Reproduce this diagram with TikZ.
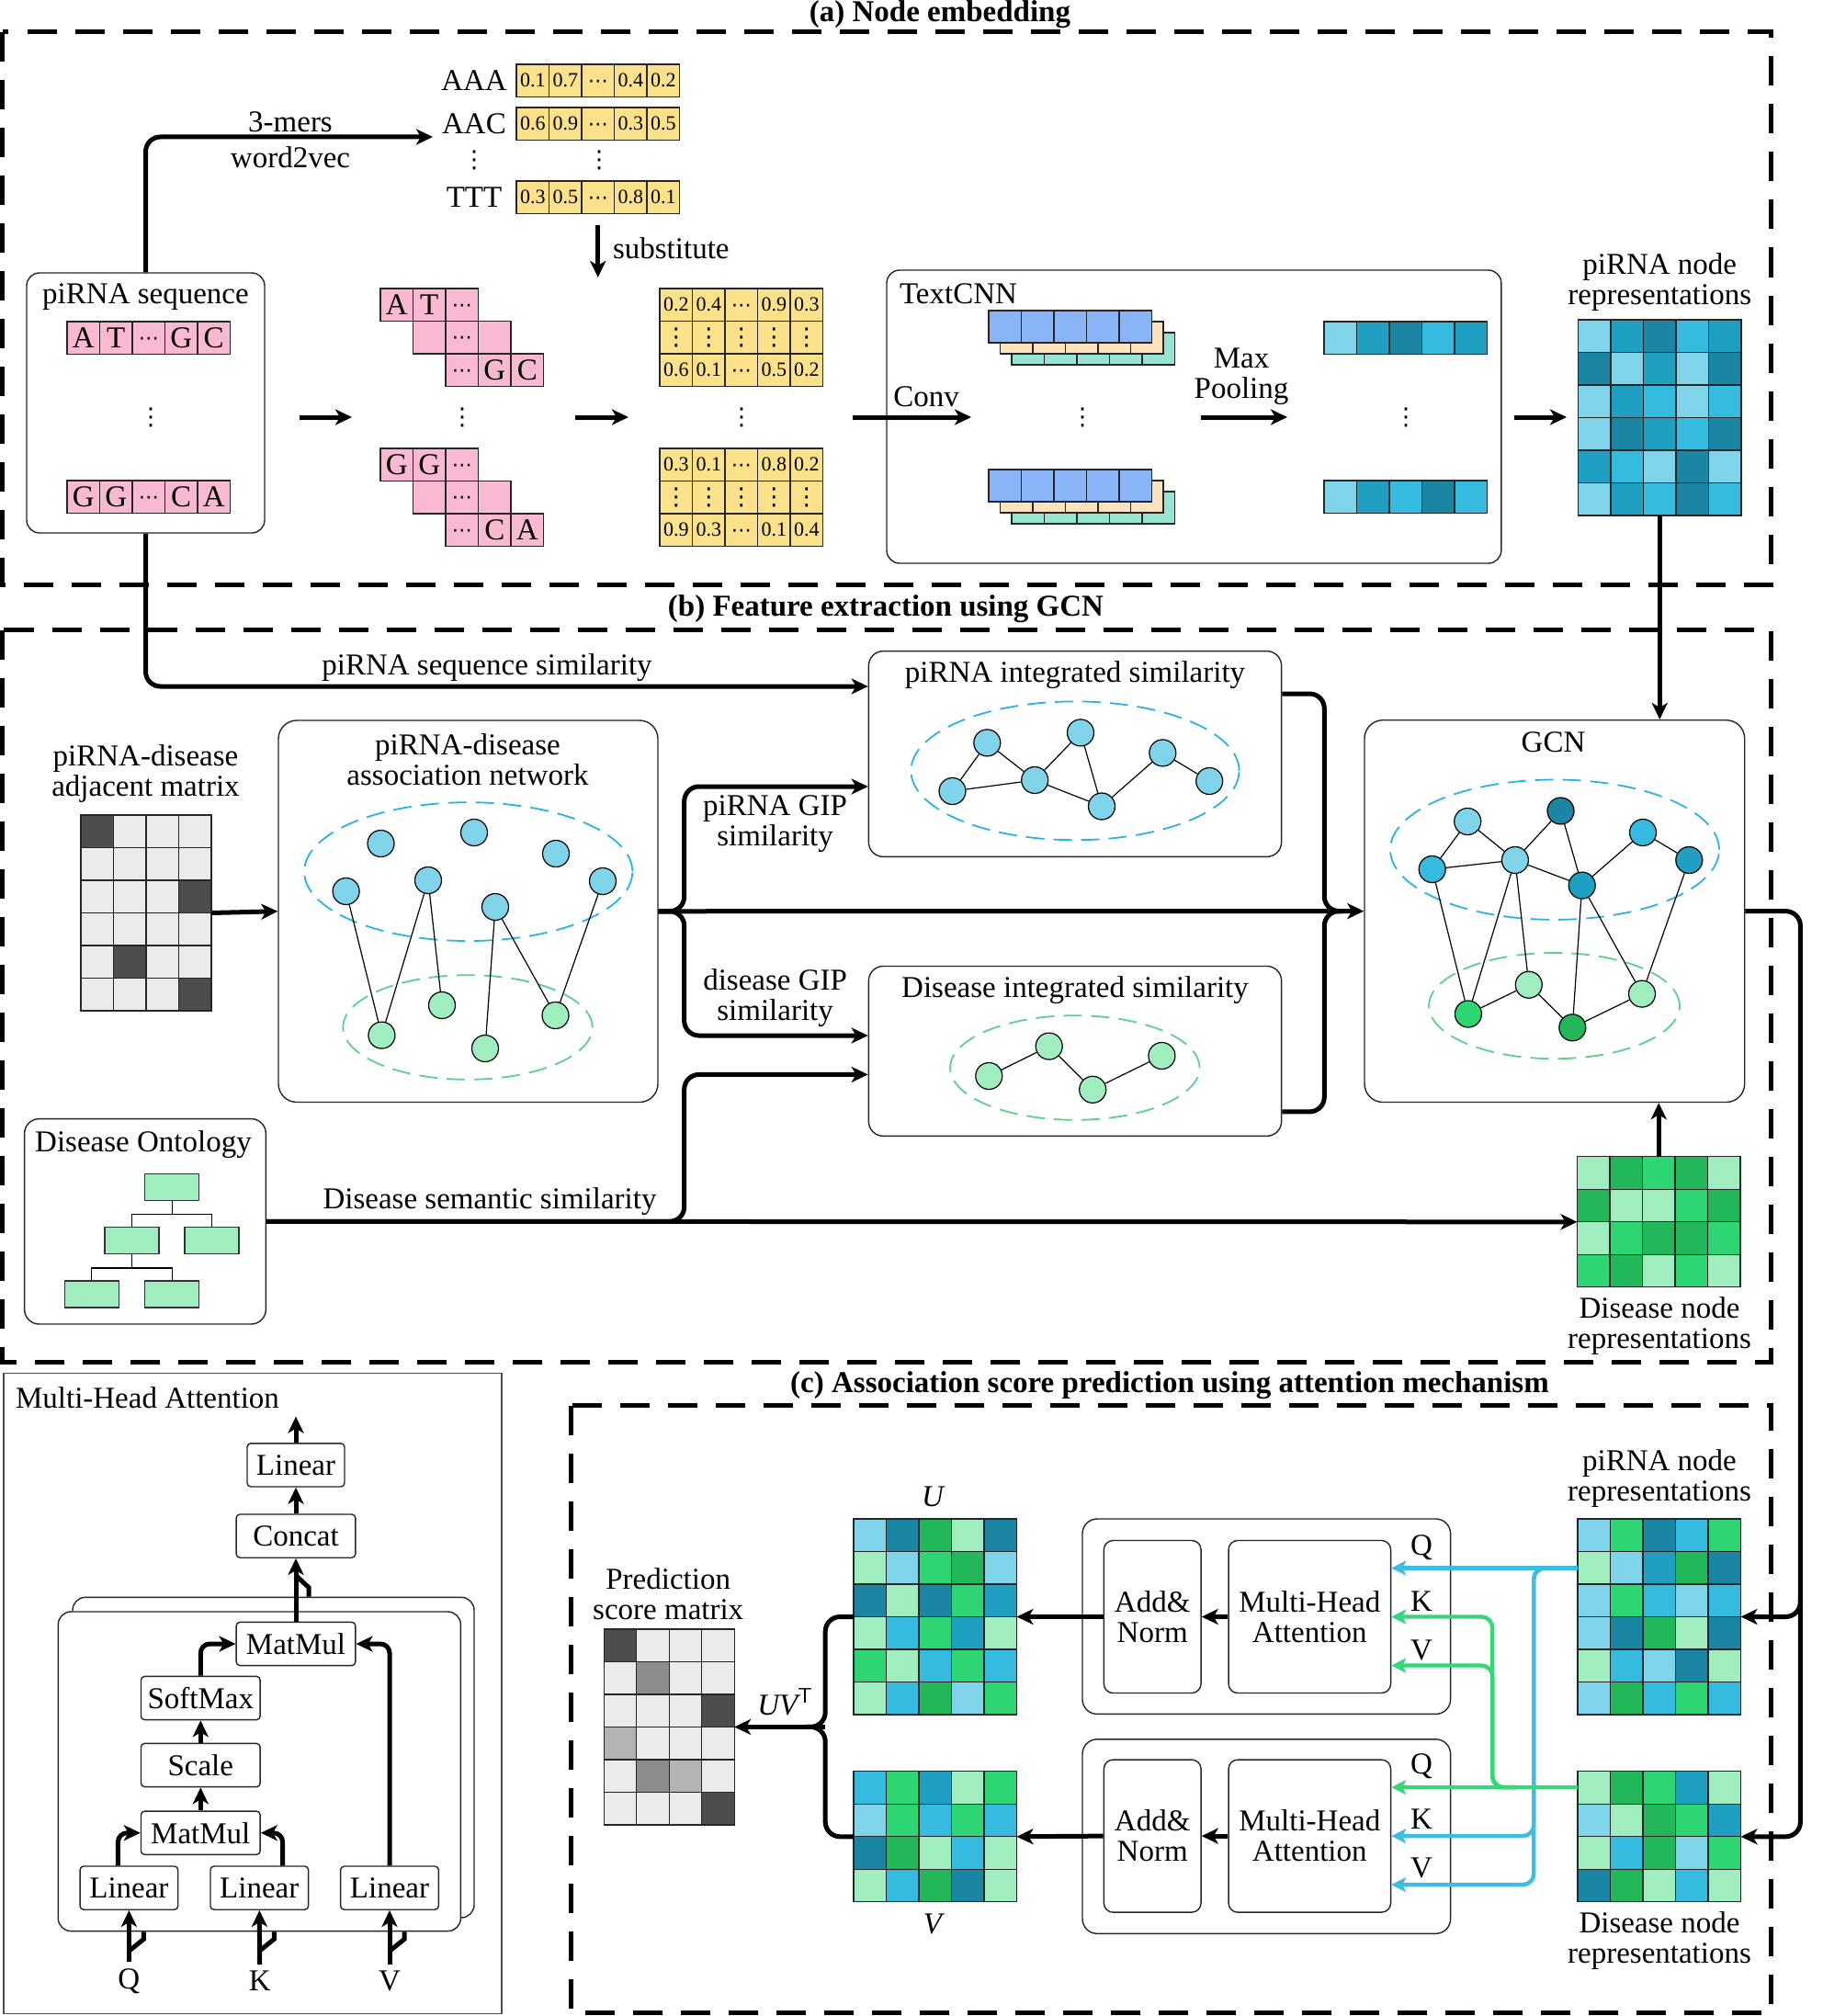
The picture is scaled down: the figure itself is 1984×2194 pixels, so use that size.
\documentclass[tikz,border=0pt]{standalone}
\usepackage{fontspec}
\setmainfont{Liberation Serif}
\newfontfamily\dotsfont{DejaVu Sans}
\usetikzlibrary{arrows.meta, positioning, calc}

\definecolor{SeqPink}{RGB}{250,185,210}
\definecolor{VecYellow}{RGB}{251,226,138}
\definecolor{ConvBlue}{RGB}{138,180,248}
\definecolor{ConvBeige}{RGB}{253,226,190}
\definecolor{ConvTeal}{RGB}{152,228,210}
\definecolor{Lc}{HTML}{7FD4EA}
\definecolor{Mc}{HTML}{1F9FC1}
\definecolor{Dc}{HTML}{1A86A4}
\definecolor{Bc}{HTML}{36BBE0}
\definecolor{Lg}{HTML}{A0EDC0}
\definecolor{Dg}{HTML}{22B85A}
\definecolor{Bg}{HTML}{2ED573}
\definecolor{Gd}{HTML}{4D4D4D}
\definecolor{Gl}{HTML}{EBEBEB}
\definecolor{Gm}{HTML}{8C8C8C}
\definecolor{Gs}{HTML}{B3B3B3}
\definecolor{EllBlue}{HTML}{29B3E3}
\definecolor{EllGreen}{HTML}{5CD08C}
\definecolor{ArrCyan}{HTML}{3DBDE2}
\definecolor{ArrGreen}{HTML}{35D777}

\newcommand{\cdt}{{\dotsfont\fontsize{11}{11}\selectfont\raisebox{0pt}[0.66em][0pt]{⋯}}}
\newcommand{\vdt}{{\dotsfont\fontsize{13}{13}\selectfont ⋮}}
% coloured grid: name, x, y (top left), columns, rows, rows of colours
\newcommand{\heatmap}[6]{%
  \foreach \cellrowlist [count=\ri] in {#6} {
    \foreach \cellcol [count=\ci] in \cellrowlist
      \draw[cellline, fill=\cellcol] ({#2+(\ci-1)*35.5},{#3+(\ri-1)*35.5}) rectangle ++(35.5,35.5);
  }
  \node[inner sep=0pt, outer sep=0pt, minimum width={#4*17.75pt}, minimum height={#5*17.75pt}, anchor=north west] (#1) at (#2,#3) {};
}
% row of lettered cells: name, x, y, style, entries
\newcommand{\cellrow}[5]{%
  \foreach \entry [count=\ci] in {#5} {
    \node[#4, anchor=north west] (#1-\ci) at ({#2+(\ci-1)*35.5},#3) {};
    \node[#4, draw=none, fill=none, minimum width=0pt, minimum height=0pt] (#1-\ci-t) at (#1-\ci.center) {\entry};
  }
}

\begin{document}
\begin{tikzpicture}[x=0.5pt, y=-0.5pt, font=\fontsize{16.5}{16.5}\selectfont]
  \tikzstyle{panel} = [line width=2.5pt, dash pattern=on 16pt off 10pt]
  \tikzstyle{cellline} = [draw=black!85, line width=0.6pt]
  \tikzstyle{pinkcell} = [cellline, fill=SeqPink, minimum width=17.75pt, minimum height=17.75pt, inner sep=0pt, outer sep=0pt]
  \tikzstyle{yellowcell} = [pinkcell, fill=VecYellow, font=\fontsize{11}{11}\selectfont]
  \tikzstyle{bluecell} = [pinkcell, fill=ConvBlue, minimum height=17.5pt]
  \tikzstyle{beigecell} = [bluecell, fill=ConvBeige]
  \tikzstyle{tealcell} = [bluecell, fill=ConvTeal]
  \tikzstyle{roundbox} = [draw=black!85, line width=0.7pt, rounded corners=7pt, fill=white, inner sep=0pt]
  \tikzstyle{mbox} = [draw=black!85, line width=0.7pt, rounded corners=2pt, fill=white, minimum height=23.6pt, inner sep=0pt]
  \tikzstyle{arrow} = [-{Stealth[length=9pt, width=8.5pt, inset=2.5pt]}, line width=2.5pt]
  \tikzstyle{thickline} = [line width=2.5pt]
  \tikzstyle{cyanarrow} = [-{Stealth[length=8pt, width=8pt, inset=2pt]}, line width=2.2pt, draw=ArrCyan]
  \tikzstyle{greenarrow} = [cyanarrow, draw=ArrGreen]
  \tikzstyle{bnode} = [circle, draw, line width=0.6pt, minimum size=14.5pt, inner sep=0pt, fill=Lc]
  \tikzstyle{gnode} = [bnode, fill=Lg]
  \tikzstyle{edge} = [line width=0.6pt]
  \tikzstyle{blueell} = [draw=EllBlue, line width=0.9pt, dash pattern=on 10pt off 5pt]
  \tikzstyle{greenell} = [blueell, draw=EllGreen]
  \tikzstyle{title} = [font=\fontsize{16.5}{16.5}\selectfont\bfseries]
  \tikzstyle{treebox} = [draw=black!80, line width=0.6pt, fill=Lg, minimum width=29.5pt, minimum height=14.5pt, inner sep=0pt]

  \useasboundingbox (0,0) rectangle (1984,2194);

  % Panels
  \draw[panel] (2.5,35) rectangle (1927,636);
  \draw[panel] (2.5,685.5) rectangle (1927,1482);
  \draw[panel] (621.5,1529.5) rectangle (1927,2190.5);
  \node[title] (ta) at (1023,16) {(a) Node embedding};
  \node[title] (tb) at (964,663) {(b) Feature extraction using GCN};
  \node[title] (tc) at (1273,1508) {(c) Association score prediction using attention mechanism};

  % (a) sequences
  \coordinate (mid) at (0,454);
  \node[roundbox, minimum width=129.5pt, minimum height=141.5pt] (seqbox) at (158.5,438.5) {};
  \node (seqtitle) at (158.5,323) {piRNA sequence};
  \cellrow{s1}{73}{350}{pinkcell}{A,T,\cdt,G,C}
  \cellrow{s2}{73}{523}{pinkcell}{G,G,\cdt,C,A}
  \node (sdots) at (164,454) {\vdt};

  % k-mer vectors
  \node (aaa) at (516,88) {AAA};
  \node (aac) at (516,135) {AAC};
  \node (kdots) at (516,174) {\vdt};
  \node (ttt) at (516,215) {TTT};
  \cellrow{v1}{562}{70}{yellowcell}{0.1,0.7,\cdt,0.4,0.2}
  \cellrow{v2}{562}{117}{yellowcell}{0.6,0.9,\cdt,0.3,0.5}
  \node (vecdots) at (652,174) {\vdt};
  \cellrow{v3}{562}{197}{yellowcell}{0.3,0.5,\cdt,0.8,0.1}
  \coordinate (kin) at (471,149);
  \draw[arrow, rounded corners=8pt] (seqbox.north) |- (kin);
  \node (kmer) at (316,133) {3-mers};
  \node (w2v) at (316,171) {word2vec};
  \draw[arrow] ([yshift=-6.25pt]v3-3.south) -- ([yshift=-34.75pt]v3-3.south);
  \node[anchor=west] (subst) at (660,270) {substitute};

  % 3-mer staircases
  \cellrow{u1}{414}{314}{pinkcell}{A,T,\cdt}
  \cellrow{u2}{449.5}{349.5}{pinkcell}{{},\cdt,{}}
  \cellrow{u3}{485}{385}{pinkcell}{\cdt,G,C}
  \cellrow{w1}{414}{488}{pinkcell}{G,G,\cdt}
  \cellrow{w2}{449.5}{523.5}{pinkcell}{{},\cdt,{}}
  \cellrow{w3}{485}{559}{pinkcell}{\cdt,C,A}
  \node (udots) at (503,454) {\vdt};

  % embedded matrices
  \cellrow{ya1}{718}{314}{yellowcell}{0.2,0.4,\cdt,0.9,0.3}
  \cellrow{ya2}{718}{349.5}{yellowcell}{\vdt,\vdt,\vdt,\vdt,\vdt}
  \cellrow{ya3}{718}{385}{yellowcell}{0.6,0.1,\cdt,0.5,0.2}
  \cellrow{yb1}{718}{488}{yellowcell}{0.3,0.1,\cdt,0.8,0.2}
  \cellrow{yb2}{718}{523.5}{yellowcell}{\vdt,\vdt,\vdt,\vdt,\vdt}
  \cellrow{yb3}{718}{559}{yellowcell}{0.9,0.3,\cdt,0.1,0.4}
  \node (ydots) at (807,454) {\vdt};

  % TextCNN
  \node[roundbox, minimum width=334.4pt, minimum height=159.5pt] (cnn) at (1299.4,453.5) {};
  \node[anchor=west] (cnntitle) at (972,320) {TextCNN};
  \cellrow{ct1}{1101}{362}{tealcell}{{},{},{},{},{}}
  \cellrow{ce1}{1088.5}{350}{beigecell}{{},{},{},{},{}}
  \cellrow{cb1}{1076}{338}{bluecell}{{},{},{},{},{}}
  \cellrow{ct2}{1101}{535}{tealcell}{{},{},{},{},{}}
  \cellrow{ce2}{1088.5}{523}{beigecell}{{},{},{},{},{}}
  \cellrow{cb2}{1076}{511}{bluecell}{{},{},{},{},{}}
  \node (cdots) at (1178,454) {\vdt};
  \heatmap{pl1}{1441}{350}{5}{1}{{Lc,Mc,Dc,Bc,Mc}}
  \heatmap{pl2}{1441}{523}{5}{1}{{Lc,Mc,Bc,Dc,Bc}}
  \node (pdots) at (1530,454) {\vdt};
  \node (convlbl) at (1008,432) {Conv};
  \node[align=center] (poollbl) at (1351,410) {Max\\Pooling};

  % piRNA node representations
  \heatmap{prep1}{1717.5}{348}{5}{6}{{Lc,Mc,Dc,Bc,Mc},{Dc,Lc,Mc,Lc,Dc},{Lc,Mc,Bc,Lc,Bc},{Lc,Dc,Mc,Bc,Dc},{Mc,Bc,Lc,Dc,Lc},{Lc,Mc,Bc,Dc,Bc}}
  \node[align=center, above=1pt of prep1] (prep1lbl) {piRNA node\\representations};

  % Arrows (a)
  \draw[arrow, shorten <=18.5pt, shorten >=15.5pt] (seqbox.east |- mid) -- (u1-1.west |- mid);
  \draw[arrow, shorten <=17.25pt, shorten >=17pt] (u3-3.east |- mid) -- (ya1-1.west |- mid);
  \draw[arrow, shorten <=16.25pt, shorten >=9.5pt] (ya1-5.east |- mid) -- (cb1-1.west |- mid);
  \draw[arrow, shorten <=14.25pt, shorten >=20pt] (ct1-5.east |- mid) -- (pl1.west |- mid);
  \draw[arrow, shorten <=6.6pt, shorten >=6.25pt] (cnn.east |- mid) -- (prep1.west |- mid);

  % (b) adjacency matrix and association network
  \heatmap{adj}{88}{887}{4}{6}{{Gd,Gl,Gl,Gl},{Gl,Gl,Gl,Gl},{Gl,Gl,Gl,Gd},{Gl,Gl,Gl,Gl},{Gl,Gd,Gl,Gl},{Gl,Gl,Gl,Gd}}
  \node[align=center] (adjlbl) at (158.5,842) {piRNA-disease\\adjacent matrix};
  \node[roundbox, rounded corners=10pt, minimum width=206.5pt, minimum height=207.75pt] (anet) at (509.5,991.75) {};
  \node[align=center] (anetlbl) at (509,827) {piRNA-disease\\association network};
  \draw[blueell] (509.7,948.6) ellipse [x radius=89.3pt, y radius=37.7pt];
  \draw[greenell] (509,1118) ellipse [x radius=67.85pt, y radius=28.4pt];
  \node[bnode] (a1) at (414.5,918) {};
  \node[bnode] (a2) at (516,906) {};
  \node[bnode] (a3) at (605,929) {};
  \node[bnode] (a4) at (376.6,970) {};
  \node[bnode] (a5) at (466,958) {};
  \node[bnode] (a6) at (539,987) {};
  \node[bnode] (a7) at (656,959) {};
  \node[gnode] (d1) at (415.4,1126.6) {};
  \node[gnode] (d2) at (481,1094) {};
  \node[gnode] (d3) at (528,1141) {};
  \node[gnode] (d4) at (604.5,1105) {};
  \foreach \p/\q in {a4/d1, a5/d1, a5/d2, a6/d3, a6/d4, a7/d4}
    \draw[edge] (\p) -- (\q);

  % integrated similarities
  \node[roundbox, rounded corners=8pt, minimum width=224.65pt, minimum height=111.9pt] (pis) at (1170,820.5) {};
  \node (pislbl) at (1170,735) {piRNA integrated similarity};
  \draw[blueell] (1170,838.8) ellipse [x radius=89.3pt, y radius=37.7pt];
  \node[bnode] (p1) at (1074.3,808.4) {};
  \node[bnode] (p2) at (1176,797.4) {};
  \node[bnode] (p3) at (1265.3,819.4) {};
  \node[bnode] (p4) at (1036.5,861) {};
  \node[bnode] (p5) at (1126.2,849) {};
  \node[bnode] (p6) at (1199,877.5) {};
  \node[bnode] (p7) at (1316.2,850) {};
  \foreach \p/\q in {p4/p1, p1/p5, p4/p5, p5/p2, p2/p6, p5/p6, p6/p3, p3/p7}
    \draw[edge] (\p) -- (\q);
  \node[roundbox, rounded corners=8pt, minimum width=224.65pt, minimum height=92.45pt] (dis) at (1170,1143.9) {};
  \node (dislbl) at (1170,1078) {Disease integrated similarity};
  \draw[greenell] (1169.8,1162) ellipse [x radius=67.85pt, y radius=28.4pt];
  \node[gnode] (q1) at (1076.3,1171) {};
  \node[gnode] (q2) at (1141.7,1138.6) {};
  \node[gnode] (q3) at (1189.2,1185.8) {};
  \node[gnode] (q4) at (1264.4,1149) {};
  \draw[edge] (q1) -- (q2) -- (q3) -- (q4);

  % disease ontology
  \node[roundbox, rounded corners=8pt, minimum width=131.35pt, minimum height=111.7pt] (onto) at (158,1329.3) {};
  \node (ontolbl) at (156,1246) {Disease Ontology};
  \node[treebox] (t0) at (187.1,1292) {};
  \node[treebox] (t1) at (143.5,1350.1) {};
  \node[treebox] (t2) at (230.5,1350.1) {};
  \node[treebox] (t3) at (99.7,1408.5) {};
  \node[treebox] (t4) at (187.1,1408.5) {};
  \draw[edge] (t0.south) -- ++(0,14.2) -| (t1.north);
  \draw[edge] (t0.south) -- ++(0,14.2) -| (t2.north);
  \draw[edge] (t1.south) -- ++(0,14.8) -| (t3.north);
  \draw[edge] (t1.south) -- ++(0,14.8) -| (t4.north);

  % GCN
  \node[roundbox, rounded corners=10pt, minimum width=206.85pt, minimum height=207.9pt] (gcn) at (1691.85,991.6) {};
  \node (gcnlbl) at (1690.5,808) {GCN};
  \draw[blueell] (1692,924.7) ellipse [x radius=89.5pt, y radius=38.1pt];
  \draw[greenell] (1691.5,1094.6) ellipse [x radius=68.2pt, y radius=28.8pt];
  \node[bnode, fill=Lc] (n1) at (1597.2,894) {};
  \node[bnode, fill=Dc] (n2) at (1698.5,882.5) {};
  \node[bnode, fill=Bc] (n3) at (1558.7,946) {};
  \node[bnode, fill=Lc] (n4) at (1648.9,936) {};
  \node[bnode, fill=Mc] (n5) at (1721.7,963.6) {};
  \node[bnode, fill=Bc] (n6) at (1788,906) {};
  \node[bnode, fill=Mc] (n7) at (1838.3,936) {};
  \node[gnode, fill=Bg] (g1) at (1597.9,1103.5) {};
  \node[gnode, fill=Lg] (g2) at (1663.8,1071.7) {};
  \node[gnode, fill=Dg] (g3) at (1711.3,1118.3) {};
  \node[gnode, fill=Lg] (g4) at (1787,1081.6) {};
  \foreach \p/\q in {n3/n1, n1/n4, n3/n4, n4/n2, n4/n5, n2/n5, n5/n6, n6/n7, n3/g1, n4/g1, n4/g2, n5/g3, n5/g4, n7/g4, g1/g2, g2/g3, g3/g4}
    \draw[edge] (\p) -- (\q);

  % disease node representations
  \heatmap{dmat}{1716.5}{1258.8}{5}{4}{{Lg,Dg,Bg,Dg,Lg},{Dg,Lg,Lg,Bg,Dg},{Lg,Bg,Dg,Dg,Bg},{Bg,Dg,Lg,Bg,Lg}}
  \node[align=center] (dmatlbl) at (1806,1443) {Disease node\\representations};

  % Arrows (b)
  \coordinate (ljoin) at ([xshift=14pt]anet.east);
  \coordinate (rjoin) at ([xshift=-21.5pt]gcn.west);
  \draw[arrow, rounded corners=8pt] (seqbox.south) |- ([yshift=36.75pt]pis.west);
  \node (seqsim) at (530,727) {piRNA sequence similarity};
  \draw[arrow] (adj.east) -- (anet.west);
  \draw[arrow] (anet.east) -- (gcn.west);
  \draw[arrow, rounded corners=8pt] (anet.east) -- (ljoin) |- ([yshift=-17.75pt]pis.west);
  \draw[arrow, rounded corners=8pt] (anet.east) -- (ljoin) |- ([yshift=8.45pt]dis.west);
  \node[align=center] (pgip) at (843.6,897) {piRNA GIP\\similarity};
  \node[align=center] (dgip) at (843.6,1086) {disease GIP\\similarity};
  \draw[thickline, rounded corners=8pt] ([yshift=32.75pt]pis.east) -| (rjoin) -- ++(20,0);
  \draw[thickline, rounded corners=8pt] ([yshift=-33pt]dis.east) -| (rjoin) -- ++(20,0);
  \draw[arrow] (onto.east) -- (dmat.west);
  \draw[arrow, rounded corners=8pt] (onto.east) -- (onto.east -| ljoin) |- ([yshift=-12.75pt]dis.west);
  \node (semsim) at (533,1308) {Disease semantic similarity};
  \draw[arrow] (prep1.south) -- (prep1.south |- gcn.north);
  \draw[arrow] (dmat.north) -- (dmat.north |- gcn.south);

  % (c) multi-head attention detail
  \node[draw=black!70, line width=0.8pt, minimum width=270.85pt, minimum height=348.45pt, inner sep=0pt] (mhapanel) at (274.85,1842.95) {};
  \node[anchor=west] (mhatitle) at (10,1521) {Multi-Head Attention};
  \node[roundbox, minimum width=218.5pt, minimum height=174.35pt] (backhead) at (297.5,1912.65) {};
  \node[roundbox, minimum width=219.05pt, minimum height=173.8pt] (fronthead) at (282.35,1927.8) {};
  \node[mbox, minimum width=53pt] (lin0) at (322,1594.4) {Linear};
  \node[mbox, minimum width=64.85pt] (cat) at (322,1671.6) {Concat};
  \node[mbox, minimum width=64.85pt] (mm2) at (322,1789) {MatMul};
  \node[mbox, minimum width=64.85pt] (sm) at (218.3,1848) {SoftMax};
  \node[mbox, minimum width=64.85pt] (sc) at (218.3,1921) {Scale};
  \node[mbox, minimum width=64.85pt] (mm1) at (218.3,1994.7) {MatMul};
  \node[mbox, minimum width=53.35pt] (lq) at (140.4,2054.6) {Linear};
  \node[mbox, minimum width=53.35pt] (lk) at (282.3,2054.6) {Linear};
  \node[mbox, minimum width=53.35pt] (lv) at (424,2054.6) {Linear};
  \node (qin) at (140.4,2156) {Q};
  \node (kin2) at (282.7,2156) {K};
  \node (vin) at (424,2156) {V};
  \coordinate (mhaout) at (322,1541.6);
  \draw[arrow] (lin0) -- (mhaout);
  \draw[arrow] (cat) -- (lin0);
  \draw[arrow] (mm2) -- (cat);
  \draw[thickline] ([xshift=7pt]mm2.north |- backhead.north) -- ++(0,-10) -- ++(-14,-13);
  \draw[arrow, rounded corners=5pt] (sm.north) |- (mm2.west);
  \draw[arrow] (sc) -- (sm);
  \draw[arrow] (mm1) -- (sc);
  \draw[arrow, rounded corners=5pt] ([xshift=-6pt]lq.north) |- (mm1.west);
  \draw[arrow, rounded corners=5pt] ([xshift=12.65pt]lk.north) |- (mm1.east);
  \draw[arrow, rounded corners=5pt] (lv.north) |- (mm2.east);
  \foreach \inp/\lin in {qin/lq, kin2/lk, vin/lv} {
    \draw[arrow] (\inp.north) -- (\lin.south);
    \draw[thickline] ([xshift=8pt]\lin.south |- fronthead.south) -- ++(0,8) -- ++(-16,13);
  }

  % (c) prediction
  \heatmap{pmat}{657.1}{1772.9}{4}{6}{{Gd,Gl,Gl,Gl},{Gl,Gm,Gl,Gl},{Gl,Gl,Gl,Gd},{Gs,Gl,Gl,Gl},{Gl,Gm,Gs,Gl},{Gl,Gl,Gl,Gd}}
  \node[align=center] (pmatlbl) at (727.2,1735) {Prediction\\score matrix};
  \heatmap{umat}{929}{1653}{5}{6}{{Lc,Dc,Dg,Lg,Dc},{Lg,Lc,Bg,Dg,Lc},{Dc,Lg,Dc,Bg,Mc},{Lg,Bc,Bg,Mc,Lg},{Bg,Lg,Bc,Bg,Bc},{Lg,Bc,Dg,Lc,Bg}}
  \heatmap{vmat}{929}{1927.8}{5}{4}{{Bc,Bg,Mc,Lg,Bg},{Lc,Bg,Bc,Bg,Bc},{Dc,Dg,Lg,Bc,Lg},{Lg,Bc,Dg,Dc,Lg}}
  \node (ulbl) at (1015,1629) {\itshape U};
  \node (vlbl) at (1015,2094) {\itshape V};
  \coordinate (ujoin) at ([xshift=-15.4pt]umat.west |- pmat.east);
  \draw[thickline, rounded corners=8pt] (umat.west) -| (ujoin) -- ++(-20,0);
  \draw[thickline, rounded corners=8pt] (vmat.west) -| (ujoin) -- ++(-20,0);
  \draw[arrow] (ujoin) -- (pmat.east);
  \node (uvt) at (854.5,1852) {\itshape UV\textsuperscript{\upshape\sffamily T}};

  % encoders
  \node[roundbox, rounded corners=8pt, minimum width=200.3pt, minimum height=106.2pt] (enc1) at (1378.3,1759.2) {};
  \node[roundbox, rounded corners=8pt, minimum width=200.3pt, minimum height=105.75pt] (enc2) at (1378.3,1998.55) {};
  \node[roundbox, rounded corners=5pt, minimum width=52.85pt, minimum height=83pt, align=center] (an1) at (1254.2,1759.5) {Add\&\\Norm};
  \node[roundbox, rounded corners=5pt, minimum width=88.25pt, minimum height=83pt, align=center] (mh1) at (1425.3,1759.5) {Multi-Head\\Attention};
  \node[roundbox, rounded corners=5pt, minimum width=52.85pt, minimum height=83pt, align=center] (an2) at (1254.2,1998.1) {Add\&\\Norm};
  \node[roundbox, rounded corners=5pt, minimum width=88.25pt, minimum height=83pt, align=center] (mh2) at (1425.3,1998.1) {Multi-Head\\Attention};
  \draw[arrow] (mh1) -- (an1);
  \draw[arrow] (mh2) -- (an2);
  \draw[arrow] (an1.west) -- (umat.east);
  \draw[arrow] (an2.west) -- (vmat.east);
  \foreach \lbl/\yy [count=\i] in {Q/1684, K/1742.4, V/1796.2, Q/1922, K/1979.5, V/2033.3}
    \node (qkv\i) at (1547,\yy) {\lbl};
  \coordinate (in1q) at ([yshift=26.5pt]mh1.east);
  \coordinate (in1k) at (mh1.east);
  \coordinate (in1v) at ([yshift=-26.5pt]mh1.east);
  \coordinate (in2q) at ([yshift=26.5pt]mh2.east);
  \coordinate (in2k) at (mh2.east);
  \coordinate (in2v) at ([yshift=-26.5pt]mh2.east);

  % node representations in (c)
  \heatmap{prep2}{1717}{1653}{5}{6}{{Lc,Bg,Dc,Bc,Bg},{Lg,Lc,Mc,Dg,Dc},{Lc,Bg,Bc,Lc,Bc},{Lc,Dc,Dg,Lg,Dc},{Lg,Bc,Lc,Dc,Lg},{Lc,Dg,Bc,Bg,Bc}}
  \node[align=center] (prep2lbl) at (1806,1609) {piRNA node\\representations};
  \heatmap{dmat2}{1717}{1927.8}{5}{4}{{Lg,Dg,Bg,Mc,Lg},{Lc,Lg,Dg,Bg,Mc},{Lg,Bc,Dg,Lc,Bg},{Dc,Dg,Lg,Bc,Lg}}
  \node[align=center] (dmat2lbl) at (1806,2112) {Disease node\\representations};

  % Q, K, V inputs
  \draw[cyanarrow] (prep2.west |- in1q) -- (in1q);
  \draw[cyanarrow, rounded corners=6pt] ($(prep2.west |- in1q)+(-20,0)$) -| ($(in2k)+(155,0)$) -- (in2k);
  \draw[cyanarrow, rounded corners=6pt] ($(prep2.west |- in1q)+(-20,0)$) -| ($(in2v)+(155,0)$) -- (in2v);
  \draw[greenarrow] (dmat2.west |- in2q) -- (in2q);
  \draw[greenarrow, rounded corners=6pt] ($(dmat2.west |- in2q)+(-67,0)$) -| ($(in1k)+(110,0)$) -- (in1k);
  \draw[greenarrow, rounded corners=6pt] ($(dmat2.west |- in2q)+(-67,0)$) -| ($(in1v)+(110,0)$) -- (in1v);

  % GCN output
  \coordinate (gout) at ([xshift=30pt]gcn.east);
  \draw[arrow, rounded corners=8pt] (gcn.east) -| (gout |- dmat2.east) -- (dmat2.east);
  \draw[arrow, rounded corners=8pt] ($(gout |- prep2.east)+(0,-20)$) -- (gout |- prep2.east) -- (prep2.east);
\end{tikzpicture}
\end{document}
